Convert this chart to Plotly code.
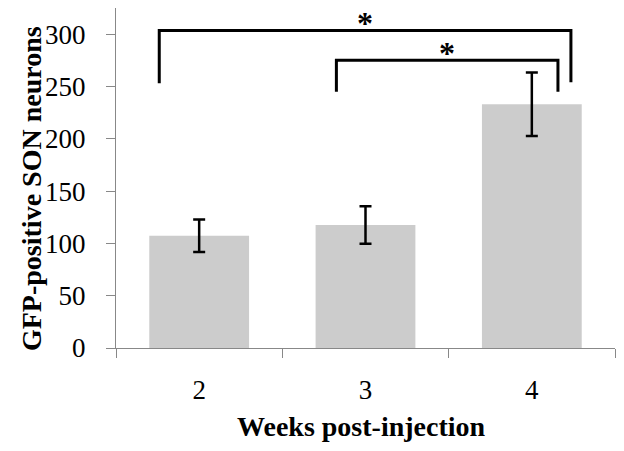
import plotly.graph_objects as go

categories = ["2", "3", "4"]
values = [107.3, 117.6, 233.0]
errors = [15.6, 18.0, 30.3]

# significance brackets between categories (category-index positions, value heights)
brackets = [
    {"x0": -0.24, "x1": 2.235, "top": 303.5, "b0": 253, "b1": 254, "label": "*"},
    {"x0": 0.825, "x1": 2.157, "top": 275, "b0": 245, "b1": 245, "label": "*"},
]

x_title = "Weeks post-injection"
y_title = "GFP-positive SON neurons"

font_family = "Liberation Serif"

fig = go.Figure()
fig.add_trace(go.Bar(
    x=categories, y=values,
    marker=dict(color="#cccccc", line=dict(width=0)),
    error_y=dict(type="data", array=errors, visible=True, color="black", thickness=2.5, width=6),
    width=0.6,
))

for b in brackets:
    fig.add_shape(type="path",
                  path=f"M {b['x0']},{b['b0']} L {b['x0']},{b['top']} L {b['x1']},{b['top']} L {b['x1']},{b['b1']}",
                  xref="x", yref="y", line=dict(color="black", width=3))
    fig.add_annotation(x=(b['x0'] + b['x1']) / 2, y=b['top'], xref="x", yref="y",
                       text=f"<b>{b['label']}</b>", showarrow=False, yshift=7,
                       font=dict(family=font_family, size=32, color="black"))

fig.add_annotation(text=f"<b>{x_title}</b>", xref="paper", yref="paper", x=0.5, y=0,
                   xanchor="center", yanchor="middle", xshift=-4, yshift=-78, showarrow=False,
                   font=dict(family=font_family, size=28, color="black"))
fig.add_annotation(text=f"<b>{y_title}</b>", xref="paper", yref="paper", x=0, y=0.4676,
                   xanchor="center", yanchor="middle", xshift=-85, textangle=-90, showarrow=False,
                   font=dict(family=font_family, size=28, color="black"))

fig.update_layout(
    width=624, height=451,
    margin=dict(l=116, r=9, t=8, b=103),
    plot_bgcolor="white", paper_bgcolor="white",
    showlegend=False,
    font=dict(family=font_family, color="black"),
    xaxis=dict(
        type="category", range=[-0.5, 2.5], automargin=False,
        showline=True, linecolor="#888888", linewidth=1.3,
        ticks="outside", tickson="boundaries", ticklen=9, tickcolor="#888888",
        tickfont=dict(size=27, family=font_family),
        ticklabelstandoff=17,
        showgrid=False,
    ),
    yaxis=dict(
        range=[0, 325], tickvals=[0, 50, 100, 150, 200, 250, 300], automargin=False,
        showline=True, linecolor="#888888", linewidth=1.3,
        ticks="outside", ticklen=9, tickcolor="#888888",
        tickfont=dict(size=27, family=font_family),
        ticklabelstandoff=15,
        showgrid=False, zeroline=False,
    ),
)

fig.write_html("out.html", config={"displayModeBar": False},
               post_script="document.body.style.margin='0';document.body.style.overflow='hidden';")
